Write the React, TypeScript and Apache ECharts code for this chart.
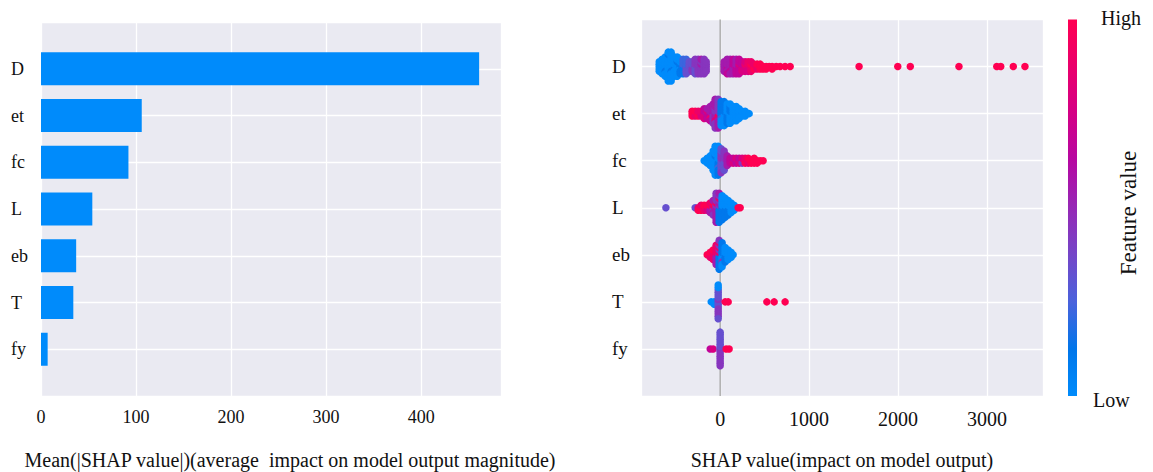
import React, { useEffect, useRef } from "react";
import * as echarts from "echarts";

// ---------- data ----------
const features = ["D", "et", "fc", "L", "eb", "T", "fy"];
const meanAbsShap = [461, 106, 92, 54, 37, 34, 7];

const leftTitle = "Mean(|SHAP value|)(average  impact on model output magnitude)";
const rightTitle = "SHAP value(impact on model output)";

// beeswarm rows: [SHAP value, feature-value levels (0 = low .. 9 = high), one digit per dot]
const swarmD: [number, string][] = [
  [-685, "00000"], [-652, "0000000"], [-618, "000100000"], [-584, "0000000000100"],
  [-551, "0001000000000"], [-517, "010000000"], [-483, "000010000"], [-450, "1011010"],
  [-416, "2121212"], [-382, "2323232"], [-348, "33333"], [-315, "34343"],
  [-281, "4343434"], [-247, "4444444"], [-214, "4454445"], [-180, "4444444"], [-157, "44444"],
  [45, "55555"], [79, "5655565"], [112, "5556555"], [146, "6565656"], [180, "5656565"],
  [213, "6676666"], [247, "67676"], [281, "77877"], [315, "87878"], [348, "88988"],
  [382, "898"], [416, "989"], [450, "999"], [483, "99"], [517, "99"], [551, "9"],
  [584, "99"], [630, "9"], [674, "9"], [730, "9"], [787, "9"],
  [1562, "9"], [1997, "9"], [2138, "9"], [2685, "9"], [3110, "9"], [3155, "9"], [3296, "9"], [3427, "9"],
];
const swarmEt: [number, string][] = [
  [-315, "999"], [-281, "989"], [-247, "898"], [-214, "878"], [-180, "67676"], [-146, "56765"],
  [-112, "5658565"], [-79, "545454545"], [-56, "4545475454545"], [-22, "4848454545454"],
  [11, "11121010101"], [45, "10101010101"], [79, "010101010"], [112, "001010100"],
  [146, "0000000"], [180, "0000000"], [213, "00000"], [247, "000"], [281, "000"], [326, "0"],
];
const swarmFc: [number, string][] = [
  [-180, "0"], [-146, "000"], [-112, "00000"], [-79, "000000000"], [-56, "0000100000000"],
  [-22, "0101020101010"], [11, "33434343343"], [45, "434343434"], [79, "55555"], [112, "666"],
  [146, "676"], [180, "767"], [213, "676"], [247, "747"], [281, "898"], [315, "989"],
  [348, "99"], [382, "999"], [416, "99"], [450, "9"], [483, "9"],
];
const swarmL: [number, string][] = [
  [-610, "3"], [-281, "3"], [-247, "89"], [-214, "898"], [-180, "989"], [-146, "879"],
  [-112, "85958"], [-79, "5485945"], [-45, "4545854545454"], [-11, "4141514181415"],
  [22, "11010101010"], [56, "010101010"], [90, "0101010"], [124, "00000"], [157, "000"],
  [202, "9"], [225, "9"],
];
const swarmEb: [number, string][] = [
  [-146, "9"], [-112, "989"], [-79, "98889"], [-45, "858585858"], [-11, "4181418141814"],
  [22, "10101410101"], [56, "0101010"], [90, "00000"], [124, "000"], [146, "0"],
];
const swarmT: [number, string][] = [
  [-101, "0"], [-67, "00"], [-22, "434334343434030"], [56, "9"], [90, "9"],
  [525, "9"], [607, "9"], [730, "9"],
];
const swarmFy: [number, string][] = [
  [-112, "6"], [-79, "7"], [0, "243434343434343"], [67, "9"], [101, "9"],
];
const swarmRows = [swarmD, swarmEt, swarmFc, swarmL, swarmEb, swarmT, swarmFy];

const barTicksMax = 484;
const swarmMin = -890;
const swarmMax = 3630;

// shap red_blue-like colormap (low -> high)
const colorStops = [
  "#008bfb", "#0076ea", "#4a62dc", "#7446c8", "#9628b6",
  "#b608a2", "#d40086", "#ea006c", "#ff0052",
];

// ---------- layout ----------
const LEFT_GRID = { left: 41, top: 22, width: 460, height: 374 };
const RIGHT_GRID = { left: 641, top: 19.5, width: 402, height: 376.5 };
const ROW_PX = RIGHT_GRID.height / (features.length + 1);
const STEP_PX = 2.4;

function buildSwarm() {
  const pts: number[][] = [];
  swarmRows.forEach((bins, r) => {
    const row = r + 1;
    bins.forEach(([x, levels]) => {
      for (let i = 0; i < levels.length; i++) {
        const k = Math.ceil(i / 2) * (i % 2 === 1 ? 1 : -1);
        pts.push([x, row + (k * STEP_PX) / ROW_PX, Number(levels[i]) / 9]);
      }
    });
  });
  return pts;
}

const FONT = "'Liberation Serif', 'Times New Roman', serif";
const TXT = "#111";

export default function App() {
  const ref = useRef<HTMLDivElement>(null);
  useEffect(() => {
    if (!ref.current) return;
    const chart = echarts.init(ref.current, null, { renderer: "svg" });
    const gridLine = { show: true, lineStyle: { color: "#ffffff", width: 1.3 } };
    const option: any = {
      animation: false,
      backgroundColor: "#ffffff",
      textStyle: { fontFamily: FONT },
      grid: [
        { ...LEFT_GRID, show: true, backgroundColor: "#EAEAF2", borderWidth: 0 },
        { ...RIGHT_GRID, show: true, backgroundColor: "#EAEAF2", borderWidth: 0 },
      ],
      xAxis: [
        {
          gridIndex: 0, type: "value", min: 0, max: barTicksMax, interval: 100,
          axisLine: { show: false }, axisTick: { show: false }, splitLine: gridLine,
          axisLabel: {
            fontSize: 18, color: TXT, fontFamily: FONT, margin: 12, showMaxLabel: false,
            formatter: (v: number) => String(v),
          },
        },
        {
          gridIndex: 1, type: "value", min: swarmMin, max: swarmMax, splitNumber: 5,
          axisLine: { show: false }, axisTick: { show: false }, splitLine: gridLine,
          axisLabel: {
            fontSize: 20, color: TXT, fontFamily: FONT, margin: 13,
            showMinLabel: false, showMaxLabel: false,
            formatter: (v: number) => String(v),
          },
        },
      ],
      yAxis: [
        {
          gridIndex: 0, type: "category", data: ["", ...features, ""], boundaryGap: false, inverse: true,
          axisLine: { show: false }, axisTick: { show: false }, splitLine: gridLine,
          axisLabel: { interval: 0, align: "left", margin: 30, fontSize: 18, color: TXT, fontFamily: FONT },
        },
        {
          gridIndex: 1, type: "value", min: 0, max: features.length + 1, interval: 1, inverse: true,
          axisLine: { show: false }, axisTick: { show: false }, splitLine: gridLine,
          axisLabel: {
            align: "left", margin: 29, fontSize: 19, color: TXT, fontFamily: FONT,
            formatter: (v: number) => features[v - 1] ?? "",
          },
        },
      ],
      visualMap: {
        show: false, type: "continuous", min: 0, max: 1, dimension: 2, seriesIndex: 2,
        inRange: { color: colorStops },
      },
      series: [
        {
          type: "bar", xAxisIndex: 0, yAxisIndex: 0, barWidth: 33,
          data: ["-", ...meanAbsShap, "-"],
          itemStyle: { color: "#008BFB" },
        },
        {
          type: "line", xAxisIndex: 1, yAxisIndex: 1, symbol: "none", silent: true, z: 1,
          data: [[0, 0], [0, features.length + 1]],
          lineStyle: { color: "#9a9a9a", width: 1.2 },
        },
        {
          type: "scatter", xAxisIndex: 1, yAxisIndex: 1, z: 3, symbolSize: 7.5,
          data: buildSwarm(), itemStyle: { opacity: 1 },
        },
      ],
      graphic: [
        {
          type: "rect", shape: { x: 1068, y: RIGHT_GRID.top, width: 9, height: RIGHT_GRID.height },
          style: {
            fill: new echarts.graphic.LinearGradient(0, 1, 0, 0,
              colorStops.map((c, i) => ({ offset: i / (colorStops.length - 1), color: c }))),
          },
        },
        {
          type: "text", x: 290, y: 460,
          style: { text: leftTitle, fontSize: 20, fontFamily: FONT, fill: TXT, align: "center", verticalAlign: "middle" },
        },
        {
          type: "text", x: 842, y: 460,
          style: { text: rightTitle, fontSize: 20, fontFamily: FONT, fill: TXT, align: "center", verticalAlign: "middle" },
        },
        {
          type: "text", x: 1101, y: 18,
          style: { text: "High", fontSize: 20, fontFamily: FONT, fill: TXT, align: "left", verticalAlign: "middle" },
        },
        {
          type: "text", x: 1093, y: 400,
          style: { text: "Low", fontSize: 20, fontFamily: FONT, fill: TXT, align: "left", verticalAlign: "middle" },
        },
        {
          type: "text", x: 1128, y: 213, rotation: Math.PI / 2,
          style: { text: "Feature value", fontSize: 23, fontFamily: FONT, fill: TXT, align: "center", verticalAlign: "middle" },
        },
      ],
    };
    chart.setOption(option);
    return () => chart.dispose();
  }, []);
  return (
    <div
      ref={ref}
      style={{ position: "fixed", left: 0, top: 0, width: 1153, height: 472, background: "#fff" }}
    />
  );
}
